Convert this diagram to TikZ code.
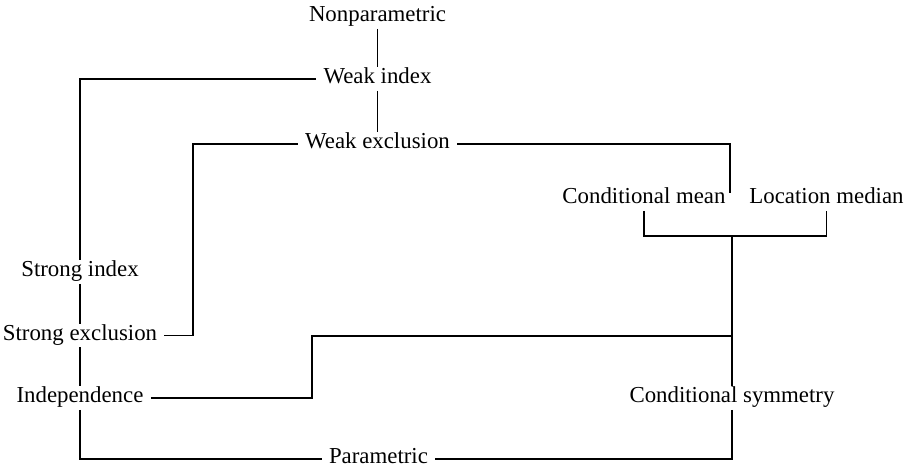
\documentclass[tikz,border=0pt]{standalone}
\usepackage{fontspec}
\setmainfont{Liberation Serif}
\usepackage{tikz}

\begin{document}
\begin{tikzpicture}[
            term/.style={inner xsep=4pt, inner ysep=2pt, text height=0.72em, text depth=0.18em,
                         font=\fontsize{13}{15}\selectfont},
            link/.style={line width=1pt}
        ]
            \useasboundingbox (0,0) rectangle (18.2,9.4);

            \node[term] (nonpar) at (7.55,9.06) {Nonparametric};
            \node[term] (weakidx) at (7.55,7.82) {Weak index};
            \node[term] (weakexc) at (7.55,6.52) {Weak exclusion};
            \node[term] (condmean) at (12.88,5.42) {Conditional mean};
            \node[term] (locmed) at (16.53,5.42) {Location median};
            \node[term] (strongidx) at (1.6,3.96) {Strong index};
            \node[term] (strongexc) at (1.6,2.69) {Strong exclusion};
            \node[term] (indep) at (1.6,1.44) {Independence};
            \node[term] (condsym) at (14.64,1.44) {Conditional symmetry};
            \node[term] (param) at (7.57,0.22) {Parametric};

            % Corners
            \coordinate (pair) at (14.6,5.54);
            \coordinate (brk) at (14.64,4.68);
            \coordinate (sx) at (3.86,2.69);
            \coordinate (jn) at (6.24,2.68);

            \draw[link] (nonpar) -- (weakidx);
            \draw[link] (weakidx) -- (weakexc);
            \draw[link] (weakidx.west) -| (strongidx.north);
            \draw[link] (strongidx) -- (strongexc);
            \draw[link] (strongexc) -- (indep);
            \draw[link] (weakexc.west) -| (sx) -- (strongexc.east);
            \draw[link] (weakexc.east) -| (pair);
            \draw[link] (condmean.south) |- (brk) -| (locmed.south);
            \draw[link] (brk) -- (condsym.north);
            \draw[link] (indep.east) -| (jn) -- (jn -| condsym);
            \draw[link] (indep.south) |- (param.west);
            \draw[link] (condsym.south) |- (param.east);
        \end{tikzpicture}
\end{document}
